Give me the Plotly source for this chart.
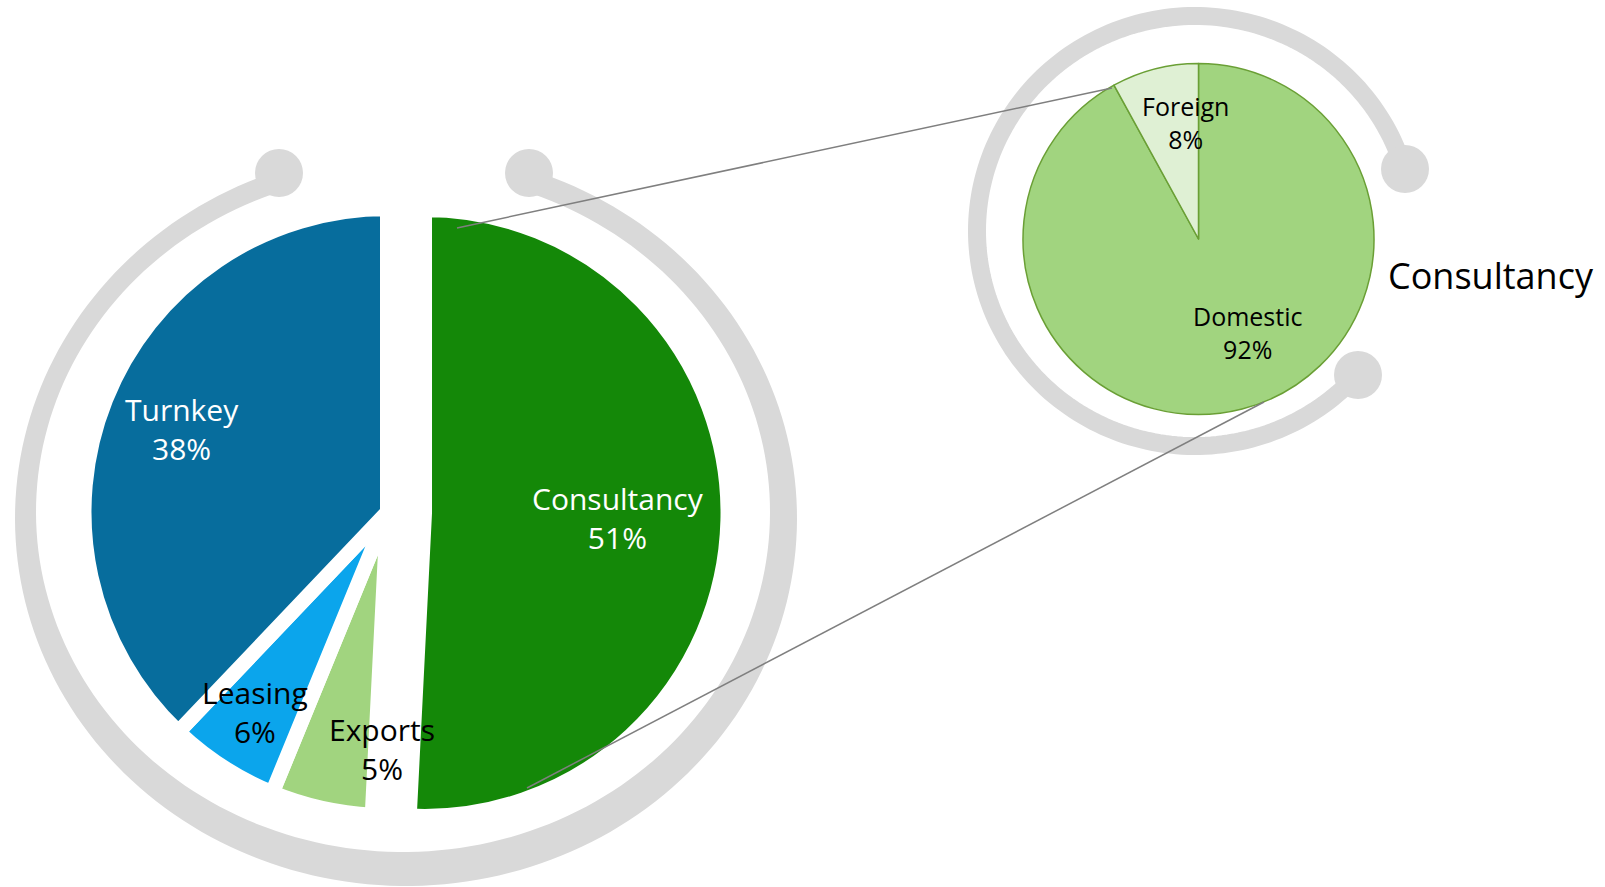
import numpy as np
import plotly.graph_objects as go

W, H = 1605, 887

# ---- data ----
main_labels = ["Consultancy", "Exports", "Leasing", "Turnkey"]
main_values = [50.8, 5.4, 5.9, 37.9]
sub_labels = ["Domestic", "Foreign"]
sub_values = [92, 8]
sub_title = "Consultancy"

# ---- styles / layout positions ----
main_colors = ["#148808", "#a1d47f", "#0ba5ec", "#076d9d"]
main_pull = [0.122, 0, 0, 0]
main_text_colors = ["white", "black", "black", "white"]
main_label_pos = [(618, 518), (382, 749), (255, 712), (182, 429)]
sub_colors = ["#a1d47f", "#dff0d4"]
sub_text_colors = ["black", "black"]
sub_label_pos = [(1247, 332), (1185, 122)]
FONT = "Open Sans"


def px_dom(cx, cy, half):
    return dict(x=[(cx - half) / W, (cx + half) / W],
                y=[1 - (cy + half) / H, 1 - (cy - half) / H])


fig = go.Figure()

fig.add_trace(go.Pie(
    labels=main_labels, values=main_values, sort=False, direction="clockwise",
    rotation=0, pull=main_pull, textinfo="none", hoverinfo="skip",
    marker=dict(colors=main_colors, line=dict(color="white", width=15)),
    domain=px_dom(387.5, 512, 303.5 * 1.122), showlegend=False))

fig.add_trace(go.Pie(
    labels=sub_labels, values=sub_values, sort=False, direction="clockwise",
    rotation=0, textinfo="none", hoverinfo="skip",
    marker=dict(colors=sub_colors, line=dict(color="#6a9f35", width=1.5)),
    domain=px_dom(1198.5, 239, 175.5), showlegend=False))

shapes = []


def ell_pts(cx, cy, a, b, t0, t1, n=200):
    t = np.radians(np.linspace(t0, t1, n))
    return list(zip(cx + a * np.sin(t), cy - b * np.cos(t)))


def to_path(pts, close=False):
    s = "M " + " L ".join(f"{x:.2f},{y:.2f}" for x, y in pts)
    return s + (" Z" if close else "")


GRAY = "#d9d9d9"
# big ring (band between two ellipses)
outer = ell_pts(406, 518.3, 391, 367.7, 19, 341)
inner = ell_pts(403, 512, 367, 340, 341, 19)
shapes.append(dict(type="path", xref="x", yref="y", path=to_path(outer + inner, True),
                   fillcolor=GRAY, line=dict(width=0), layer="below"))
for (x, y) in [(529, 173), (279, 173)]:
    shapes.append(dict(type="circle", xref="x", yref="y", x0=x - 24, x1=x + 24,
                       y0=y - 24, y1=y + 24, fillcolor=GRAY, line=dict(width=0),
                       layer="below"))
# small ring
shapes.append(dict(type="path", xref="x", yref="y",
                   path=to_path(ell_pts(1195, 231, 218, 215, 131.6, 434.4)),
                   line=dict(color=GRAY, width=18), layer="below"))
for (x, y) in [(1405, 169), (1358, 375)]:
    shapes.append(dict(type="circle", xref="x", yref="y", x0=x - 24, x1=x + 24,
                       y0=y - 24, y1=y + 24, fillcolor=GRAY, line=dict(width=0),
                       layer="below"))
# connector lines
for (x0, y0, x1, y1) in [(457, 228, 1112, 88), (527, 788, 1264, 402)]:
    shapes.append(dict(type="line", xref="x", yref="y", x0=x0, y0=y0, x1=x1, y1=y1,
                       line=dict(color="#7f7f7f", width=1.5), layer="above"))

annotations = []
for lab, val, col, (x, y) in zip(main_labels, main_values, main_text_colors, main_label_pos):
    annotations.append(dict(x=x, y=y, xref="x", yref="y", showarrow=False,
                            text=f"{lab}<br>{round(val)}%",
                            font=dict(family=FONT, size=30, color=col)))
for lab, val, col, (x, y) in zip(sub_labels, sub_values, sub_text_colors, sub_label_pos):
    annotations.append(dict(x=x, y=y, xref="x", yref="y", showarrow=False,
                            text=f"{lab}<br>{round(val)}%",
                            font=dict(family=FONT, size=25, color=col)))
annotations.append(dict(x=1386, y=275, xref="x", yref="y", showarrow=False,
                        xanchor="left", text=sub_title,
                        font=dict(family=FONT, size=36, color="black")))

fig.update_layout(
    width=W, height=H, margin=dict(l=0, r=0, t=0, b=0),
    paper_bgcolor="white", plot_bgcolor="white",
    xaxis=dict(range=[0, W], visible=False, fixedrange=True),
    yaxis=dict(range=[H, 0], visible=False, fixedrange=True),
    shapes=shapes, annotations=annotations, showlegend=False)

fig.write_html("out.html", config={"displayModeBar": False})
